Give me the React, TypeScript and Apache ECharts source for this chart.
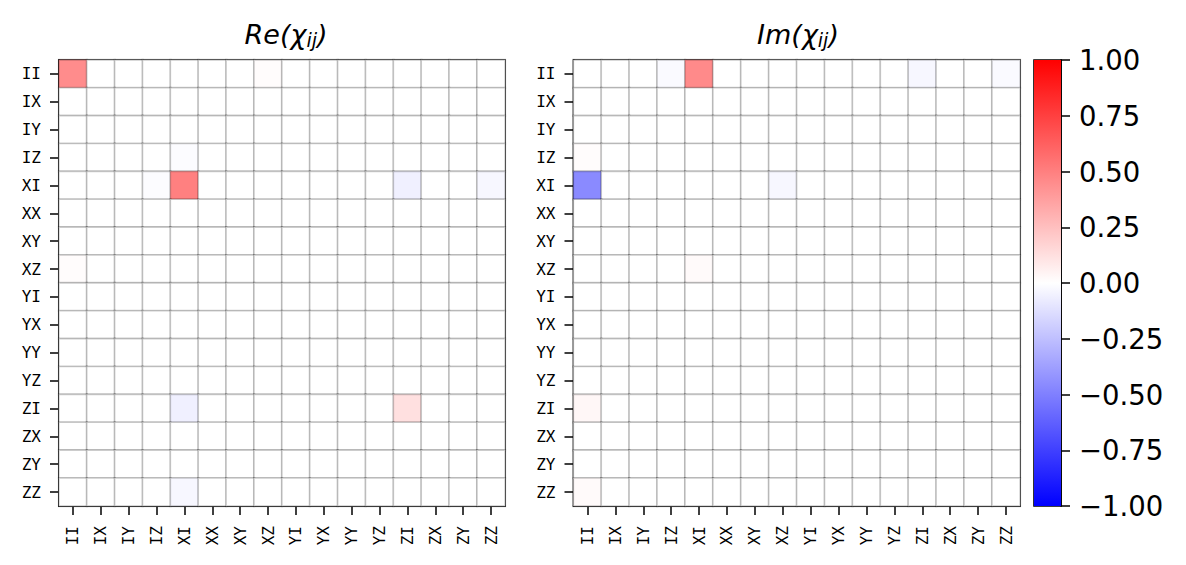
import React, { useEffect, useRef } from "react";
import * as echarts from "echarts";

const paulis: string[] = ["II", "IX", "IY", "IZ", "XI", "XX", "XY", "XZ", "YI", "YX", "YY", "YZ", "ZI", "ZX", "ZY", "ZZ"];

// Real part of the process matrix (rows = y labels, top to bottom; cols = x labels)
const reChi: number[][] = [
  [0.45, 0, 0, 0, 0, 0, 0, 0.01, 0, 0, 0, 0, 0, 0, 0, 0],
  [0, 0, 0, 0, 0, 0, 0, 0, 0, 0, 0, 0, 0, 0, 0, 0],
  [0, 0, 0, 0, 0, 0, 0, 0, 0, 0, 0, 0, 0, 0, 0, 0],
  [0, 0, 0, 0, -0.01, 0, 0, 0, 0, 0, 0, 0, 0, 0, 0, 0],
  [0, 0, 0, -0.01, 0.5, 0, 0, 0, 0, 0, 0, 0, -0.06, 0, 0, -0.03],
  [0, 0, 0, 0, 0, 0, 0, 0, 0, 0, 0, 0, 0, 0, 0, 0],
  [0, 0, 0, 0, 0, 0, 0, 0, 0, 0, 0, 0, 0, 0, 0, 0],
  [0.01, 0, 0, 0, 0, 0, 0, 0, 0, 0, 0, 0, 0, 0, 0, 0],
  [0, 0, 0, 0, 0, 0, 0, 0, 0, 0, 0, 0, 0, 0, 0, 0],
  [0, 0, 0, 0, 0, 0, 0, 0, 0, 0, 0, 0, 0, 0, 0, 0],
  [0, 0, 0, 0, 0, 0, 0, 0, 0, 0, 0, 0, 0, 0, 0, 0],
  [0, 0, 0, 0, 0, 0, 0, 0, 0, 0, 0, 0, 0, 0, 0, 0],
  [0, 0, 0, 0, -0.06, 0, 0, 0, 0, 0, 0, 0, 0.12, 0, 0, 0],
  [0, 0, 0, 0, 0, 0, 0, 0, 0, 0, 0, 0, 0, 0, 0, 0],
  [0, 0, 0, 0, 0, 0, 0, 0, 0, 0, 0, 0, 0, 0, 0, 0],
  [0, 0, 0, 0, -0.03, 0, 0, 0, 0, 0, 0, 0, 0, 0, 0, 0],
];

// Imaginary part of the process matrix
const imChi: number[][] = [
  [0, 0, 0, -0.02, 0.46, 0, 0, 0, 0, 0, 0, 0, -0.03, 0, 0, -0.02],
  [0, 0, 0, 0, 0, 0, 0, 0, 0, 0, 0, 0, 0, 0, 0, 0],
  [0, 0, 0, 0, 0, 0, 0, 0, 0, 0, 0, 0, 0, 0, 0, 0],
  [0.01, 0, 0, 0, 0, 0, 0, 0, 0, 0, 0, 0, 0, 0, 0, 0],
  [-0.46, 0, 0, 0, 0, 0, 0, -0.03, 0, 0, 0, 0, 0, 0, 0, 0],
  [0, 0, 0, 0, 0, 0, 0, 0, 0, 0, 0, 0, 0, 0, 0, 0],
  [0, 0, 0, 0, 0, 0, 0, 0, 0, 0, 0, 0, 0, 0, 0, 0],
  [0, 0, 0, 0, 0.02, 0, 0, 0, 0, 0, 0, 0, 0, 0, 0, 0],
  [0, 0, 0, 0, 0, 0, 0, 0, 0, 0, 0, 0, 0, 0, 0, 0],
  [0, 0, 0, 0, 0, 0, 0, 0, 0, 0, 0, 0, 0, 0, 0, 0],
  [0, 0, 0, 0, 0, 0, 0, 0, 0, 0, 0, 0, 0, 0, 0, 0],
  [0, 0, 0, 0, 0, 0, 0, 0, 0, 0, 0, 0, 0, 0, 0, 0],
  [0.03, 0, 0, 0, 0, 0, 0, 0, 0, 0, 0, 0, 0, 0, 0, 0],
  [0, 0, 0, 0, 0, 0, 0, 0, 0, 0, 0, 0, 0, 0, 0, 0],
  [0, 0, 0, 0, 0, 0, 0, 0, 0, 0, 0, 0, 0, 0, 0, 0],
  [0.02, 0, 0, 0, 0, 0, 0, 0, 0, 0, 0, 0, 0, 0, 0, 0],
];

const colorRange: number[] = [-1, 1];
const colorbarTicks: number[] = [-1, -0.75, -0.5, -0.25, 0, 0.25, 0.5, 0.75, 1];

const toCells = (m: number[][]) => {
  const out: number[][] = [];
  m.forEach((row, r) => row.forEach((v, c) => out.push([c, r, v])));
  return out;
};

const fmt = (v: number) => v.toFixed(2).replace("-", "\u2212");

export default function App() {
  const ref = useRef<HTMLDivElement>(null);
  useEffect(() => {
    if (!ref.current) return;
    const chart = echarts.init(ref.current, undefined, { renderer: "svg" });
    const mono = "DejaVu Sans Mono";
    const sans = "DejaVu Sans";
    const grids = [
      { left: 59, top: 60, width: 446, height: 446 },
      { left: 573.5, top: 60, width: 446.5, height: 446 },
    ];
    const catX = (gi: number) => ({
      type: "category",
      gridIndex: gi,
      data: paulis,
      boundaryGap: true,
      axisLine: { show: true, lineStyle: { color: "#000", width: 1.6 } },
      axisTick: { show: true, alignWithLabel: true, length: 9, lineStyle: { color: "#000", width: 1.5 } },
      axisLabel: { rotate: 90, fontFamily: mono, fontSize: 16, color: "#000", margin: 20, interval: 0 },
      splitLine: { show: false },
    });
    const catY = (gi: number) => ({
      type: "category",
      gridIndex: gi,
      data: paulis,
      inverse: true,
      boundaryGap: true,
      axisLine: { show: true, lineStyle: { color: "#000", width: 1.6 } },
      axisTick: { show: true, alignWithLabel: true, length: 9, lineStyle: { color: "#000", width: 1.5 } },
      axisLabel: { fontFamily: mono, fontSize: 16, color: "#000", margin: 18, interval: 0 },
      splitLine: { show: false },
    });
    const heat = (idx: number, m: number[][]) => ({
      type: "heatmap",
      xAxisIndex: idx,
      yAxisIndex: idx,
      data: toCells(m),
      itemStyle: { borderColor: "rgba(0,0,0,0.2)", borderWidth: 1.8 },
      emphasis: { disabled: true },
      label: { show: false },
    });
    const titleRich = {
      a: { fontFamily: sans, fontStyle: "italic", fontSize: 27, fill: "#000" },
      b: { fontFamily: sans, fontStyle: "italic", fontSize: 19, fill: "#000", padding: [12, 0, 0, 0] },
    };
    chart.setOption({
      animation: false,
      backgroundColor: "#fff",
      grid: [
        { ...grids[0], show: true, borderColor: "#000", borderWidth: 1.6, backgroundColor: "#fff" },
        { ...grids[1], show: true, borderColor: "#000", borderWidth: 1.6, backgroundColor: "#fff" },
        { left: 1034, top: 60, width: 27, height: 446, show: true, borderColor: "#000", borderWidth: 1.6 },
      ],
      xAxis: [
        catX(0),
        catX(1),
        {
          type: "category",
          gridIndex: 2,
          data: ["cb"],
          show: false,
        },
      ],
      yAxis: [
        catY(0),
        catY(1),
        {
          type: "value",
          gridIndex: 2,
          position: "right",
          min: colorRange[0],
          max: colorRange[1],
          interval: 0.25,
          axisLine: { show: true, lineStyle: { color: "#000", width: 1.6 } },
          axisTick: { show: true, length: 9, lineStyle: { color: "#000", width: 1.5 } },
          axisLabel: {
            fontFamily: sans,
            fontSize: 27.5,
            color: "#000",
            margin: 18,
            formatter: (v: number) => (colorbarTicks.includes(v) ? fmt(v) : ""),
          },
          splitLine: { show: false },
        },
      ],
      visualMap: {
        type: "continuous",
        show: false,
        seriesIndex: [0, 1],
        dimension: 2,
        min: colorRange[0],
        max: colorRange[1],
        inRange: { color: ["#0000ff", "#ffffff", "#ff0000"] },
      },
      series: [
        heat(0, reChi),
        heat(1, imChi),
        {
          type: "bar",
          xAxisIndex: 2,
          yAxisIndex: 2,
          data: [colorRange[1]],
          barWidth: "100%",
          barGap: "-100%",
          silent: true,
          itemStyle: {
            color: new echarts.graphic.LinearGradient(0, 0, 0, 1, [
              { offset: 0, color: "#ff0000" },
              { offset: 1, color: "#ffffff" },
            ]),
          },
        },
        {
          type: "bar",
          xAxisIndex: 2,
          yAxisIndex: 2,
          data: [colorRange[0]],
          barWidth: "100%",
          barGap: "-100%",
          silent: true,
          itemStyle: {
            color: new echarts.graphic.LinearGradient(0, 0, 0, 1, [
              { offset: 0, color: "#ffffff" },
              { offset: 1, color: "#0000ff" },
            ]),
          },
        },
      ],
      graphic: [
        {
          type: "text",
          x: 286,
          y: 34,
          style: { text: "{a|Re(χ}{b|ij}{a|)}", rich: titleRich, align: "center", verticalAlign: "middle" },
        },
        {
          type: "text",
          x: 798,
          y: 34,
          style: { text: "{a|Im(χ}{b|ij}{a|)}", rich: titleRich, align: "center", verticalAlign: "middle" },
        },
      ],
    });
    return () => chart.dispose();
  }, []);
  return <div ref={ref} style={{ position: "fixed", left: 0, top: 0, width: 1186, height: 565 }} />;
}
